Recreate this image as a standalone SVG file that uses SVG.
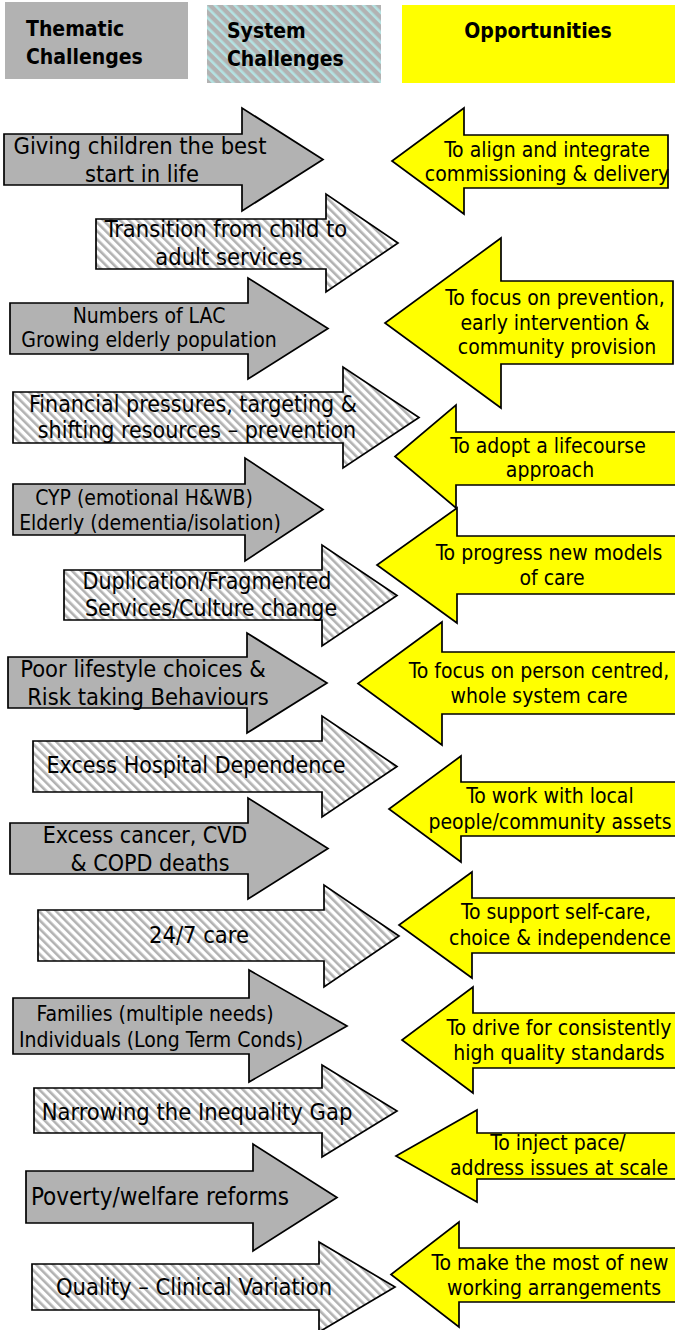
<svg xmlns="http://www.w3.org/2000/svg" width="675" height="1330" viewBox="0 0 675 1330">
<defs>
<pattern id="hatch" patternUnits="userSpaceOnUse" width="6" height="6" patternTransform="rotate(-45)">
<rect width="6" height="6" fill="#ffffff"/>
<rect width="2.6" height="6" fill="#b2b2b2"/>
</pattern>
<pattern id="hatchHdr" patternUnits="userSpaceOnUse" width="7" height="7" patternTransform="rotate(-45)">
<rect width="7" height="7" fill="#b2b2b2"/>
<rect width="2.6" height="7" fill="#b4e2e2"/>
</pattern>
</defs>
<style>
text{font-family:'DejaVu Sans Condensed','DejaVu Sans',sans-serif;font-stretch:condensed;fill:#000}
.hdr{font-weight:bold;font-size:21px}
.t{text-anchor:middle}
.s235{font-size:23.5px}
.s23{font-size:23px}
.s21{font-size:21px}
.ar{stroke:#000;stroke-width:1.7;stroke-linejoin:miter}
.gray{fill:#b2b2b2}
.hat{fill:url(#hatch)}
.yel{fill:#ffff00}
</style>

<g id="hdr-thematic">
<rect x="5" y="2" width="183" height="77" class="gray"/>
<text class="hdr" x="26" y="36">Thematic</text>
<text class="hdr" x="26" y="64">Challenges</text>
</g>
<g id="hdr-system">
<rect x="207" y="5" width="174" height="78" fill="url(#hatchHdr)"/>
<text class="hdr" x="227" y="38">System</text>
<text class="hdr" x="227" y="66">Challenges</text>
</g>
<g id="hdr-opportunities">
<rect x="402" y="5" width="273" height="78" class="yel"/>
<text class="hdr t" x="538" y="38">Opportunities</text>
</g>

<g id="l1">
<polygon class="ar gray" points="4,134 242,134 242,108 323,159.5 242,211 242,185 4,185"/>
<text class="t s235" x="140" y="154">Giving children the best</text>
<text class="t s235" x="142" y="182">start in life</text>
</g>
<g id="l2">
<polygon class="ar hat" points="96,219 326,219 326,194 398,243 326,292 326,269 96,269"/>
<text class="t s235" x="226" y="237">Transition from child to</text>
<text class="t s235" x="229" y="265">adult services</text>
</g>
<g id="l3">
<polygon class="ar gray" points="10,303 248,303 248,278 328,328.5 248,379 248,354 10,354"/>
<text class="t s21" x="149" y="323">Numbers of LAC</text>
<text class="t s21" x="149" y="347">Growing elderly population</text>
</g>
<g id="l4">
<polygon class="ar hat" points="13,392 343,392 343,367 419,417.5 343,468 343,443 13,443"/>
<text class="t s23" x="193" y="412">Financial pressures, targeting &amp;</text>
<text class="t s23" x="197" y="438">shifting resources – prevention</text>
</g>
<g id="l5">
<polygon class="ar gray" points="13,484 245,484 245,458 323,509.5 245,561 245,535 13,535"/>
<text class="t s21" x="144" y="505">CYP (emotional H&amp;WB)</text>
<text class="t s21" x="150" y="530">Elderly (dementia/isolation)</text>
</g>
<g id="l6">
<polygon class="ar hat" points="64,570 322,570 322,545 397,595.5 322,646 322,620 64,620"/>
<text class="t s23" x="207" y="589">Duplication/Fragmented</text>
<text class="t s23" x="211" y="616">Services/Culture change</text>
</g>
<g id="l7">
<polygon class="ar gray" points="8,657 247,657 247,633 327,683 247,733 247,708 8,708"/>
<text class="t s235" x="143" y="677">Poor lifestyle choices &amp;</text>
<text class="t s235" x="148" y="705">Risk taking Behaviours</text>
</g>
<g id="l8">
<polygon class="ar hat" points="33,741 322,741 322,716 397,766.5 322,817 322,792 33,792"/>
<text class="t s23" x="196" y="773">Excess Hospital Dependence</text>
</g>
<g id="l9">
<polygon class="ar gray" points="10,823 248,823 248,798 328,848.5 248,899 248,874 10,874"/>
<text class="t s23" x="145" y="843">Excess cancer, CVD</text>
<text class="t s23" x="150" y="871">&amp; COPD deaths</text>
</g>
<g id="l10">
<polygon class="ar hat" points="38,910 324,910 324,885 399,936 324,987 324,961 38,961"/>
<text class="t s235" x="199" y="943">24/7 care</text>
</g>
<g id="l11">
<polygon class="ar gray" points="13,998 249,998 249,970 347,1026 249,1082 249,1054 13,1054"/>
<text class="t s21" x="155" y="1021">Families (multiple needs)</text>
<text class="t s21" x="161" y="1047">Individuals (Long Term Conds)</text>
</g>
<g id="l12">
<polygon class="ar hat" points="34,1088 322,1088 322,1065 397,1111 322,1157 322,1133 34,1133"/>
<text class="t s235" x="197" y="1120">Narrowing the Inequality Gap</text>
</g>
<g id="l13">
<polygon class="ar gray" points="26,1171 253,1171 253,1144 337,1197.5 253,1251 253,1223 26,1223"/>
<text class="t" style="font-size:24px" x="160" y="1205">Poverty/welfare reforms</text>
</g>
<g id="l14">
<polygon class="ar hat" points="32,1264 319,1264 319,1242 395,1287 319,1332 319,1310 32,1310"/>
<text class="t s235" x="194" y="1295">Quality – Clinical Variation</text>
</g>

<g id="r1">
<polygon class="ar yel" points="668,135 464,135 464,108 392,161 464,214 464,188 668,188"/>
<text class="t s21" x="547" y="157">To align and integrate</text>
<text class="t s21" x="547" y="181">commissioning &amp; delivery</text>
</g>
<g id="r2">
<polygon class="ar yel" points="673,281 501,281 501,238 385,323 501,408 501,364 673,364"/>
<text class="t s21" x="555" y="305">To focus on prevention,</text>
<text class="t s21" x="555" y="330">early intervention &amp;</text>
<text class="t s21" x="557" y="354">community provision</text>
</g>
<g id="r3">
<polygon class="ar yel" points="680,432 456,432 456,405 395,456.5 456,508 456,485 680,485"/>
<text class="t s21" x="548" y="453">To adopt a lifecourse</text>
<text class="t s21" x="550" y="477">approach</text>
</g>
<g id="r4">
<polygon class="ar yel" points="680,536 457,536 457,508 377,565 457,623 457,594 680,594"/>
<text class="t s21" x="549" y="560">To progress new models</text>
<text class="t s21" x="552" y="585">of care</text>
</g>
<g id="r5">
<polygon class="ar yel" points="680,652 442,652 442,622 358,683.5 442,745 442,714 680,714"/>
<text class="t s21" x="539" y="678">To focus on person centred,</text>
<text class="t s21" x="539" y="703">whole system care</text>
</g>
<g id="r6">
<polygon class="ar yel" points="680,782 461,782 461,756 389,809 461,862 461,836 680,836"/>
<text class="t s21" x="550" y="803">To work with local</text>
<text class="t s21" x="550" y="829">people/community assets</text>
</g>
<g id="r7">
<polygon class="ar yel" points="680,898 472,898 472,872 399,925 472,978 472,953 680,953"/>
<text class="t s21" x="556" y="919">To support self-care,</text>
<text class="t s21" x="560" y="945">choice &amp; independence</text>
</g>
<g id="r8">
<polygon class="ar yel" points="680,1013 473,1013 473,987 402,1040 473,1093 473,1068 680,1068"/>
<text class="t s21" x="559" y="1035">To drive for consistently</text>
<text class="t s21" x="559" y="1060">high quality standards</text>
</g>
<g id="r9">
<polygon class="ar yel" points="680,1133 477,1133 477,1110 396,1156 477,1202 477,1179 680,1179"/>
<text class="t s21" x="558" y="1150">To inject pace/</text>
<text class="t s21" x="559" y="1175">address issues at scale</text>
</g>
<g id="r10">
<polygon class="ar yel" points="680,1248 459,1248 459,1222 391,1274.5 459,1327 459,1302 680,1302"/>
<text class="t s21" x="550" y="1270">To make the most of new</text>
<text class="t s21" x="554" y="1295">working arrangements</text>
</g>
</svg>
